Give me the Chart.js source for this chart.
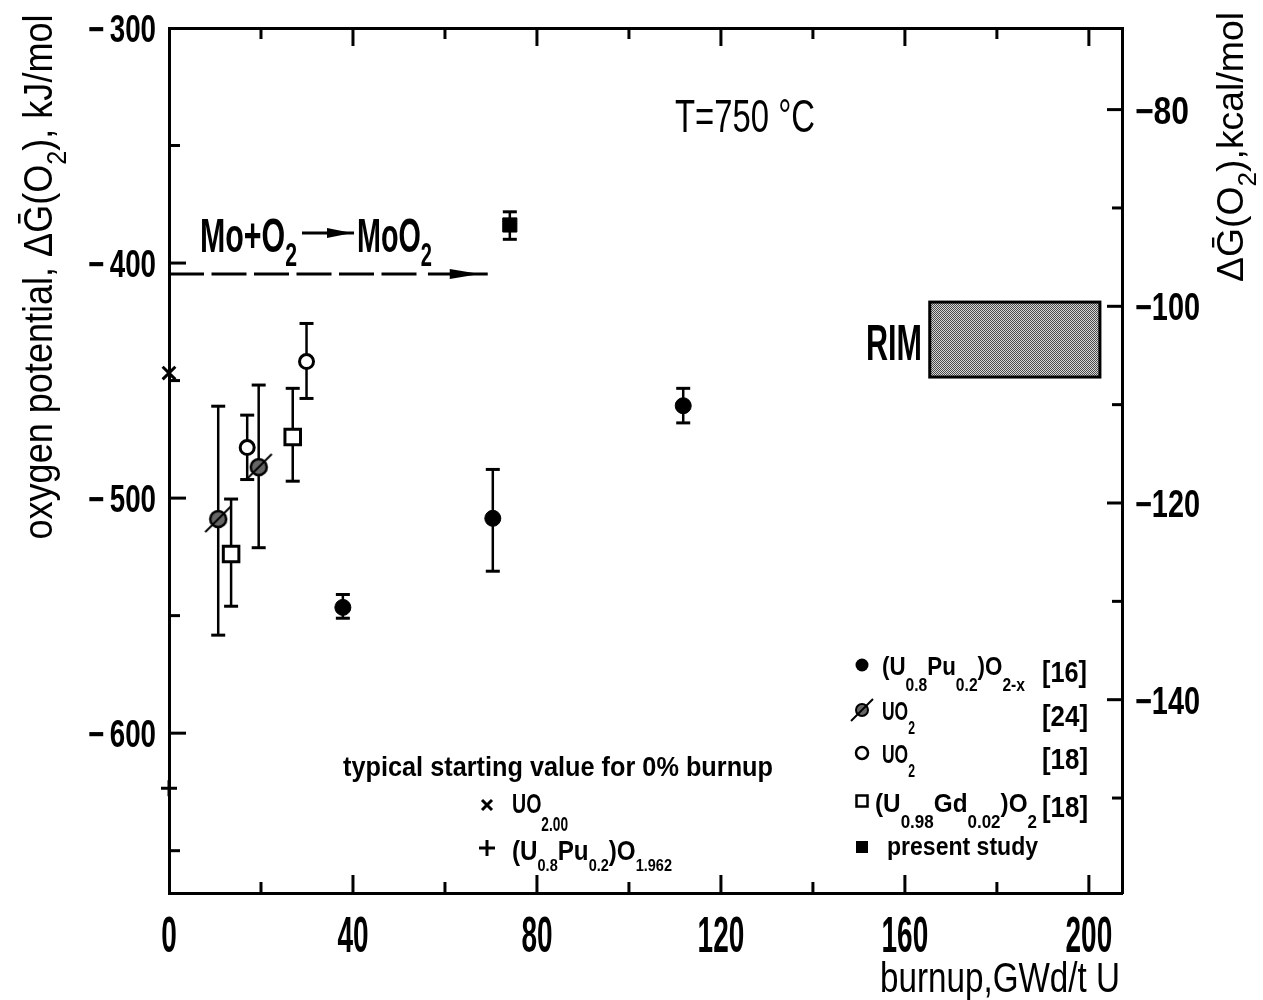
<!DOCTYPE html>
<html>
<head>
<meta charset="utf-8">
<title>Oxygen potential vs burnup</title>
<script src="https://cdn.jsdelivr.net/npm/chart.js@4.4.1/dist/chart.umd.min.js"></script>
<style>
  html, body { margin: 0; padding: 0; background: #fff; }
  #wrap { width: 1263px; height: 1000px; }
</style>
</head>
<body>
<div id="wrap"><canvas id="potChart" width="1263" height="1000"></canvas></div>
<script>
// burnup in GWd/tU, oxygen potential in kJ/mol
const puBurnup = [37.8, 70.4, 111.8];          // (U0.8Pu0.2)O2-x [16]
const puPot    = [-546.5, -508.6, -460.7];
const puHigh   = [-541.0, -487.8, -453.3];
const puLow    = [-551.1, -531.1, -468.0];

const uo24Burnup = [10.7, 19.5];               // UO2 [24]
const uo24Pot    = [-508.9, -486.8];
const uo24High   = [-460.9, -451.9];
const uo24Low    = [-558.3, -521.1];

const uo18Burnup = [17.0, 29.9];               // UO2 [18]
const uo18Pot    = [-478.5, -441.9];
const uo18High   = [-464.7, -425.7];
const uo18Low    = [-492.1, -457.6];

const gdBurnup = [13.5, 26.9];                 // (U0.98Gd0.02)O2 [18]
const gdPot    = [-523.8, -474.0];
const gdHigh   = [-500.4, -453.3];
const gdLow    = [-546.0, -492.8];

const presentBurnup = [74.1];                  // present study
const presentPot    = [-383.8];
const presentHigh   = [-378.2];
const presentLow    = [-389.9];

const startUO2Burnup = [0];                    // x UO2.00
const startUO2Pot    = [-446.8];
const startMOXBurnup = [0];                    // + (U0.8Pu0.2)O1.962
const startMOXPot    = [-623.4];

// Mo + O2 -> MoO2 line and the RIM range
const moDashedBurnup = [0, 53.9];
const moSolidBurnup  = [56.3, 69.3];
const moPot          = -404.7;
const rimBurnup = [165.4, 202.4];
const rimPot    = [-416.6, -448.5];

// axes
const xRange = [0, 207.2];
const yRange = [-668, -300];
const KJ_PER_KCAL = 4.184;
const xTickLabels = [0, 40, 80, 120, 160, 200];
const xMinorTicks = [20, 60, 100, 140, 180];
const yTickLabels = [-300, -400, -500, -600];
const yMinorTicks = [-350, -450, -550, -650];
const kcalTickLabels = [-80, -100, -120, -140];
const kcalMinorTicks = [-90, -110, -130, -150];

const FONT = '"Liberation Sans", "DejaVu Sans", sans-serif';

const pts = (xs, ys) => xs.map((x, i) => ({ x: x, y: ys[i] }));

function makeSlashedCircle(r, lw) {
  const size = Math.ceil(r * 2 + 12);
  const c = document.createElement('canvas');
  c.width = c.height = size;
  const g = c.getContext('2d');
  const m = size / 2;
  g.beginPath();
  g.arc(m, m, r, 0, Math.PI * 2);
  g.fillStyle = '#666';
  g.fill();
  g.lineWidth = lw;
  g.strokeStyle = '#000';
  g.stroke();
  g.beginPath();
  g.moveTo(m - r - 5, m + r + 5);
  g.lineTo(m + r + 5, m - r - 5);
  g.lineWidth = 2;
  g.stroke();
  return c;
}
const slashedPoint = makeSlashedCircle(8, 2.5);
const slashedSmall = makeSlashedCircle(6, 2);

function makeHatch() {
  const c = document.createElement('canvas');
  c.width = c.height = 4;
  const g = c.getContext('2d');
  g.fillStyle = '#d6d6d6';
  g.fillRect(0, 0, 4, 4);
  g.fillStyle = '#4a4a4a';
  for (let y = 0; y < 4; y++)
    for (let x = 0; x < 4; x++)
      if ((x + y) % 2 === 0) g.fillRect(x, y, 1, 1);
  return g.createPattern(c, 'repeat');
}

// "_{..}" marks a subscript
function parseRich(str) {
  const segs = [];
  const re = /_\{([^}]*)\}/g;
  let last = 0, m;
  while ((m = re.exec(str))) {
    if (m.index > last) segs.push({ t: str.slice(last, m.index), sub: false });
    segs.push({ t: m[1], sub: true });
    last = re.lastIndex;
  }
  if (last < str.length) segs.push({ t: str.slice(last), sub: false });
  return segs;
}

function richText(c, str, o) {
  const segs = parseRich(str);
  const subScale = o.subScale || 0.7;
  const subDrop = o.subDrop == null ? 0.5 : o.subDrop;
  const weight = o.weight || 'bold';
  const fontFor = s => weight + ' ' + (s.sub ? o.size * subScale : o.size) + 'px ' + FONT;
  let w = 0;
  for (const s of segs) {
    c.font = fontFor(s);
    s.w = c.measureText(s.t).width;
    w += s.w;
  }
  const sx = o.width ? o.width / w : (o.sx || 1);
  const total = w * sx;
  const start = o.align === 'center' ? -total / 2 : o.align === 'right' ? -total : 0;
  c.save();
  c.translate(o.x, o.y);
  if (o.rotate) c.rotate(o.rotate);
  c.translate(start, 0);
  c.scale(sx, 1);
  c.fillStyle = '#000';
  c.textBaseline = 'alphabetic';
  c.textAlign = 'left';
  let cx = 0;
  for (const s of segs) {
    c.font = fontFor(s);
    c.fillText(s.t, cx, s.sub ? o.size * subDrop : 0);
    cx += s.w;
  }
  c.restore();
}

const errorSeries = [
  { xs: puBurnup, hi: puHigh, lo: puLow },
  { xs: uo24Burnup, hi: uo24High, lo: uo24Low },
  { xs: uo18Burnup, hi: uo18High, lo: uo18Low },
  { xs: gdBurnup, hi: gdHigh, lo: gdLow },
  { xs: presentBurnup, hi: presentHigh, lo: presentLow }
];

function line(c, x1, y1, x2, y2) {
  c.beginPath();
  c.moveTo(x1, y1);
  c.lineTo(x2, y2);
  c.stroke();
}

const decor = {
  id: 'decor',
  beforeDatasetsDraw(chart) {
    const c = chart.ctx, xs = chart.scales.x, ys = chart.scales.y;
    c.save();
    // RIM range box
    const rx1 = xs.getPixelForValue(rimBurnup[0]), rx2 = xs.getPixelForValue(rimBurnup[1]);
    const ry1 = ys.getPixelForValue(rimPot[0]), ry2 = ys.getPixelForValue(rimPot[1]);
    c.fillStyle = makeHatch();
    c.fillRect(rx1, ry1, rx2 - rx1, ry2 - ry1);
    c.lineWidth = 3;
    c.strokeStyle = '#000';
    c.strokeRect(rx1, ry1, rx2 - rx1, ry2 - ry1);
    // error bars
    c.lineWidth = 2.5;
    errorSeries.forEach(s => {
      s.xs.forEach((v, i) => {
        const px = xs.getPixelForValue(v);
        const ph = ys.getPixelForValue(s.hi[i]);
        const pl = ys.getPixelForValue(s.lo[i]);
        line(c, px, ph, px, pl);
        c.lineWidth = 3;
        line(c, px - 7, ph, px + 7, ph);
        line(c, px - 7, pl, px + 7, pl);
        c.lineWidth = 2.5;
      });
    });
    c.restore();
  },
  afterDatasetsDraw(chart) {
    const c = chart.ctx, a = chart.chartArea;
    const xs = chart.scales.x, ys = chart.scales.y, ks = chart.scales.yKcal;
    c.save();
    c.strokeStyle = '#000';
    c.fillStyle = '#000';

    // arrowhead at the end of the Mo line
    const ex = xs.getPixelForValue(moSolidBurnup[1]), ey = ys.getPixelForValue(moPot);
    c.beginPath();
    c.moveTo(ex - 38, ey - 5);
    c.lineTo(ex - 8, ey);
    c.lineTo(ex - 38, ey + 5);
    c.closePath();
    c.fill();

    // inward ticks
    c.lineWidth = 3;
    xTickLabels.forEach(v => {
      if (v === xRange[0]) return;
      const p = xs.getPixelForValue(v);
      line(c, p, a.bottom, p, a.bottom - 18);
      line(c, p, a.top, p, a.top + 18);
    });
    xMinorTicks.forEach(v => {
      const p = xs.getPixelForValue(v);
      line(c, p, a.bottom, p, a.bottom - 11);
      line(c, p, a.top, p, a.top + 11);
    });
    yTickLabels.forEach(v => {
      if (v === yRange[1]) return;
      const p = ys.getPixelForValue(v);
      line(c, a.left, p, a.left + 17, p);
    });
    yMinorTicks.forEach(v => {
      const p = ys.getPixelForValue(v);
      line(c, a.left, p, a.left + 11, p);
    });
    kcalTickLabels.forEach(v => {
      const p = ks.getPixelForValue(v);
      line(c, a.right, p, a.right - 15, p);
    });
    kcalMinorTicks.forEach(v => {
      const p = ks.getPixelForValue(v);
      line(c, a.right, p, a.right - 10, p);
    });

    // tick labels
    xTickLabels.forEach(v => {
      richText(c, String(v), { x: xs.getPixelForValue(v), y: 952, size: 50, sx: 0.56, align: 'center' });
    });
    yTickLabels.forEach(v => {
      richText(c, '\u2212\u2009' + Math.abs(v), { x: 156, y: ys.getPixelForValue(v) + 14, size: 38, width: 68, align: 'right' });
    });
    kcalTickLabels.forEach(v => {
      const w = Math.abs(v) >= 100 ? 65 : 54;
      richText(c, '\u2212' + Math.abs(v), { x: 1135, y: ks.getPixelForValue(v) + 14, size: 38, width: w, align: 'left' });
    });

    // axis titles
    richText(c, 'oxygen potential, \u0394\u1E20(O_{2}), kJ/mol',
      { x: 52, y: 277, size: 40, width: 525, align: 'center', rotate: -Math.PI / 2, subDrop: 0.35, weight: 'normal' });
    richText(c, '\u0394\u1E20(O_{2}),kcal/mol',
      { x: 1243, y: 147, size: 36, width: 270, align: 'center', rotate: -Math.PI / 2, subDrop: 0.35, weight: 'normal' });
    richText(c, 'burnup,GWd/t U', { x: 880, y: 992, size: 42, width: 240, weight: 'normal' });

    // annotations
    richText(c, 'T=750 \u00B0C', { x: 675, y: 132, size: 46, width: 140, weight: 'normal' });
    richText(c, 'Mo+O_{2}', { x: 200, y: 252, size: 48, width: 97, subDrop: 0.3 });
    richText(c, 'MoO_{2}', { x: 357, y: 252, size: 48, width: 75, subDrop: 0.3 });
    c.lineWidth = 3;
    line(c, 302, 233, 354, 233);
    c.beginPath();
    c.moveTo(327, 228); c.lineTo(352, 233); c.lineTo(327, 238); c.closePath();
    c.fill();
    richText(c, 'RIM', { x: 866, y: 360, size: 50, width: 56 });

    richText(c, 'typical starting value for 0% burnup', { x: 343, y: 776, size: 27, width: 430 });
    c.lineWidth = 3;
    line(c, 482, 800, 492, 810); line(c, 492, 800, 482, 810);
    richText(c, 'UO_{2.00}', { x: 512, y: 813, size: 28, width: 56, subDrop: 0.65 });
    line(c, 479, 848, 495, 848); line(c, 487, 840, 487, 856);
    richText(c, '(U_{0.8}Pu_{0.2})O_{1.962}', { x: 512, y: 860, size: 28, width: 160, subDrop: 0.4, subScale: 0.6 });

    // legend
    const lx = 862;
    c.beginPath(); c.arc(lx, 665, 6.5, 0, Math.PI * 2); c.fill();
    c.drawImage(slashedSmall, lx - slashedSmall.width / 2, 710 - slashedSmall.height / 2);
    c.lineWidth = 2.5;
    c.beginPath(); c.arc(lx, 753, 6, 0, Math.PI * 2); c.stroke();
    c.strokeRect(lx - 5.5, 801 - 5.5, 11, 11);
    c.fillRect(lx - 6, 847 - 6, 12, 12);

    richText(c, '(U_{0.8}Pu_{0.2})O_{2-x}', { x: 882, y: 675, size: 26, width: 143, subDrop: 0.6 });
    richText(c, 'UO_{2}', { x: 882, y: 720, size: 26, width: 33, subDrop: 0.55 });
    richText(c, 'UO_{2}', { x: 882, y: 763, size: 26, width: 33, subDrop: 0.55 });
    richText(c, '(U_{0.98}Gd_{0.02})O_{2}', { x: 875, y: 812, size: 26, width: 162, subDrop: 0.6 });
    richText(c, 'present study', { x: 887, y: 855, size: 26, width: 151 });
    richText(c, '[16]', { x: 1042, y: 682, size: 30, width: 45 });
    richText(c, '[24]', { x: 1042, y: 726, size: 30, width: 46 });
    richText(c, '[18]', { x: 1042, y: 769, size: 30, width: 46 });
    richText(c, '[18]', { x: 1042, y: 817, size: 30, width: 46 });

    c.restore();
  }
};

const axisBase = {
  type: 'linear',
  grid: { display: false, drawTicks: false },
  border: { display: true, color: '#000', width: 3 },
  ticks: { display: false }
};

const ctx = document.getElementById('potChart').getContext('2d');

const potChart = new Chart(ctx, {
  type: 'scatter',
  data: {
    datasets: [
      {
        label: '(U0.8Pu0.2)O2-x [16]',
        data: pts(puBurnup, puPot),
        pointStyle: 'circle', pointRadius: 8,
        backgroundColor: '#000', borderColor: '#000', borderWidth: 1
      },
      {
        label: 'UO2 [24]',
        data: pts(uo24Burnup, uo24Pot),
        pointStyle: slashedPoint, pointRadius: 9
      },
      {
        label: 'UO2 [18]',
        data: pts(uo18Burnup, uo18Pot),
        pointStyle: 'circle', pointRadius: 7,
        backgroundColor: '#fff', borderColor: '#000', borderWidth: 3
      },
      {
        label: '(U0.98Gd0.02)O2 [18]',
        data: pts(gdBurnup, gdPot),
        pointStyle: 'rect', pointRadius: 11,
        backgroundColor: '#fff', borderColor: '#000', borderWidth: 3
      },
      {
        label: 'present study',
        data: pts(presentBurnup, presentPot),
        pointStyle: 'rect', pointRadius: 10,
        backgroundColor: '#000', borderColor: '#000', borderWidth: 1
      },
      {
        label: 'UO2.00',
        data: pts(startUO2Burnup, startUO2Pot),
        pointStyle: 'crossRot', pointRadius: 9,
        borderColor: '#000', borderWidth: 3
      },
      {
        label: '(U0.8Pu0.2)O1.962',
        data: pts(startMOXBurnup, startMOXPot),
        pointStyle: 'cross', pointRadius: 8,
        borderColor: '#000', borderWidth: 3
      },
      {
        type: 'line',
        label: 'Mo + O2 -> MoO2',
        data: moDashedBurnup.map(x => ({ x: x, y: moPot })),
        borderColor: '#000', borderWidth: 3, borderDash: [35, 7.5],
        pointRadius: 0, fill: false
      },
      {
        type: 'line',
        label: 'Mo + O2 -> MoO2 (end)',
        data: moSolidBurnup.map(x => ({ x: x, y: moPot })),
        borderColor: '#000', borderWidth: 3,
        pointRadius: 0, fill: false
      }
    ].map(d => Object.assign({ clip: false }, d))
  },
  options: {
    responsive: false,
    animation: false,
    events: [],
    layout: { padding: 0 },
    plugins: {
      legend: { display: false },
      tooltip: { enabled: false }
    },
    scales: {
      x: Object.assign({}, axisBase, {
        position: 'bottom', min: xRange[0], max: xRange[1],
        afterFit: s => { s.height = 107; }
      }),
      xTop: Object.assign({}, axisBase, {
        position: 'top', min: xRange[0], max: xRange[1],
        afterFit: s => { s.height = 28; }
      }),
      y: Object.assign({}, axisBase, {
        position: 'left', min: yRange[0], max: yRange[1],
        afterFit: s => { s.width = 169; }
      }),
      yKcal: Object.assign({}, axisBase, {
        position: 'right', min: yRange[0] / KJ_PER_KCAL, max: yRange[1] / KJ_PER_KCAL,
        afterFit: s => { s.width = 141; }
      })
    }
  },
  plugins: [decor]
});
</script>
</body>
</html>
